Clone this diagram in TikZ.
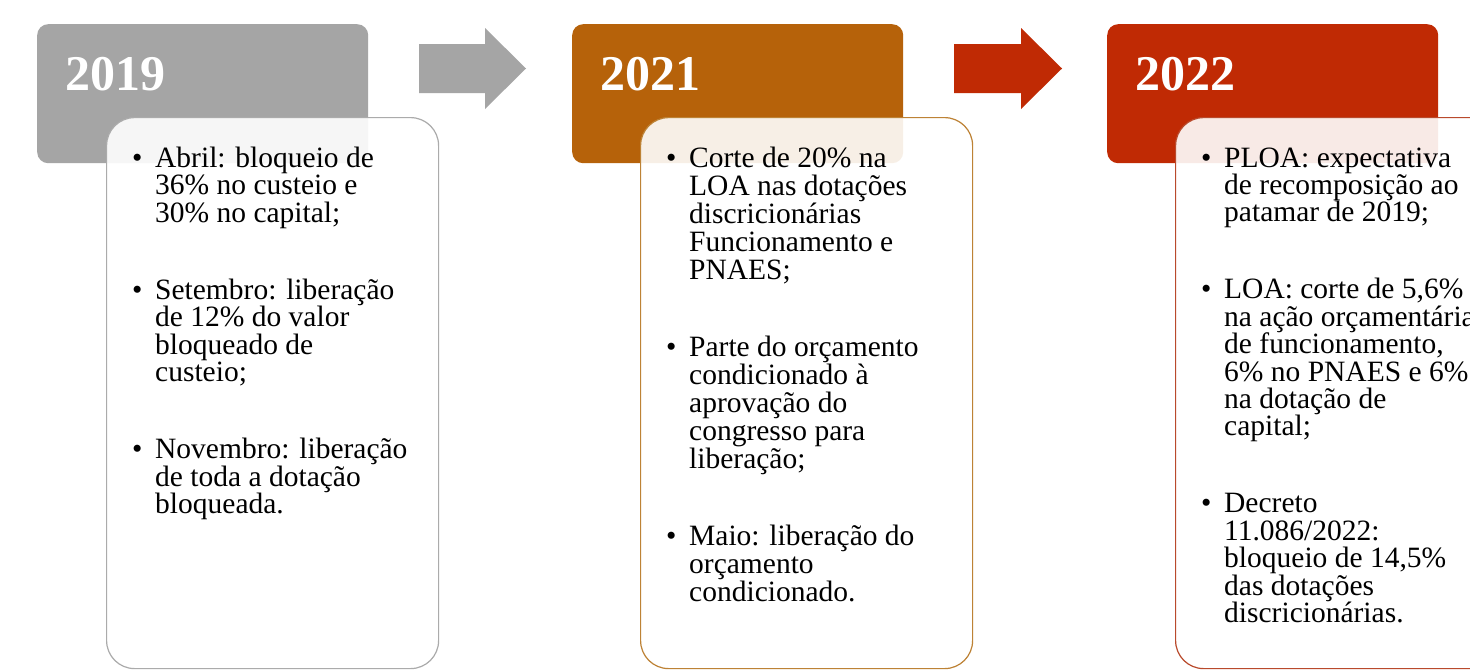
\documentclass[tikz,border=0pt]{standalone}
\usepackage{fontspec}
\setmainfont{Liberation Serif}
\definecolor{hgray}{HTML}{A5A5A5}
\definecolor{horange}{HTML}{B6620A}
\definecolor{hred}{HTML}{C02A04}
\definecolor{bgray}{HTML}{ABABAB}
\definecolor{borange}{HTML}{BD8235}
\definecolor{bred}{HTML}{B94A2C}
\newcommand\itm{\par\hangindent=23pt\hangafter=1\noindent\makebox[23pt][l]{\textbullet}}
\newcommand\boxtext[2]{\parbox[t]{300pt}{\fontsize{29.5pt}{#1}\selectfont\lineskiplimit=-100pt\lineskip=0pt\parskip=\dimexpr 77pt-#1\relax\parindent=0pt #2}}
\tikzset{
  header/.style={rectangle, rounded corners=11pt, inner sep=0pt, minimum width=331pt, minimum height=139pt, anchor=north west},
  infobox/.style={rectangle, rounded corners=28pt, inner sep=0pt, minimum width=332pt, minimum height=551pt, anchor=north west, fill=white, fill opacity=0.9, line width=1.2pt},
  yearlabel/.style={anchor=base west, inner sep=0pt, text=white, font=\bfseries\fontsize{50pt}{50pt}\selectfont},
  bodytext/.style={anchor=base west, inner sep=0pt, text=black}
}
\begin{document}
\begin{tikzpicture}[x=1pt, y=-1pt]
\clip (0,0) rectangle (1470,672);
\fill[white] (0,0) rectangle (1470,672);
% arrows (block arrows between the headers)
\coordinate (a1) at (419,68.5);
\coordinate (a2) at (954,68.5);
\fill[hgray] (a1) ++(0,-24.5) -- ++(66,0) -- ++(0,-16) -- ++(41,40.5) -- ++(-41,40.5) -- ++(0,-16) -- ++(-66,0) -- cycle;
\fill[hred] (a2) ++(0,-24.5) -- ++(67,0) -- ++(0,-16) -- ++(41,40.5) -- ++(-41,40.5) -- ++(0,-16) -- ++(-67,0) -- cycle;
% headers
\node[header, fill=hgray] (h1) at (37,24) {};
\node[header, fill=horange] (h2) at (572,24) {};
\node[header, fill=hred] (h3) at (1107,24) {};
\node[yearlabel] (y1) at (65,90) {2019};
\node[yearlabel] (y2) at (600,90) {2021};
\node[yearlabel] (y3) at (1135,90) {2022};
% boxes
\node[infobox, draw=bgray] (b1) at (106,117) {};
\node[infobox, draw=borange] (b2) at (640,117) {};
\node[infobox, draw=bred] (b3) at (1175,117) {};
% texts
\node[bodytext] (t1) at (132,167) {\boxtext{27.5pt}{%
\itm Abril: bloqueio de\\36\% no custeio e\\30\% no capital;
\itm Setembro: liberação\\de 12\% do valor\\bloqueado de\\custeio;
\itm Novembro: liberação\\de toda a dotação\\bloqueada.}};
\node[bodytext] (t2) at (666,167) {\boxtext{28pt}{%
\itm Corte de 20\% na\\LOA nas dotações\\discricionárias\\Funcionamento e\\PNAES;
\itm Parte do orçamento\\condicionado à\\aprovação do\\congresso para\\liberação;
\itm Maio: liberação do\\orçamento\\condicionado.}};
\node[bodytext] (t3) at (1201,167) {\boxtext{27.4pt}{%
\itm PLOA: expectativa\\de recomposição ao\\patamar de 2019;
\itm LOA: corte de 5,6\%\\na ação orçamentária\\de funcionamento,\\6\% no PNAES e 6\%\\na dotação de\\capital;
\itm Decreto\\11.086/2022:\\bloqueio de 14,5\%\\das dotações\\discricionárias.}};
\end{tikzpicture}
\end{document}
